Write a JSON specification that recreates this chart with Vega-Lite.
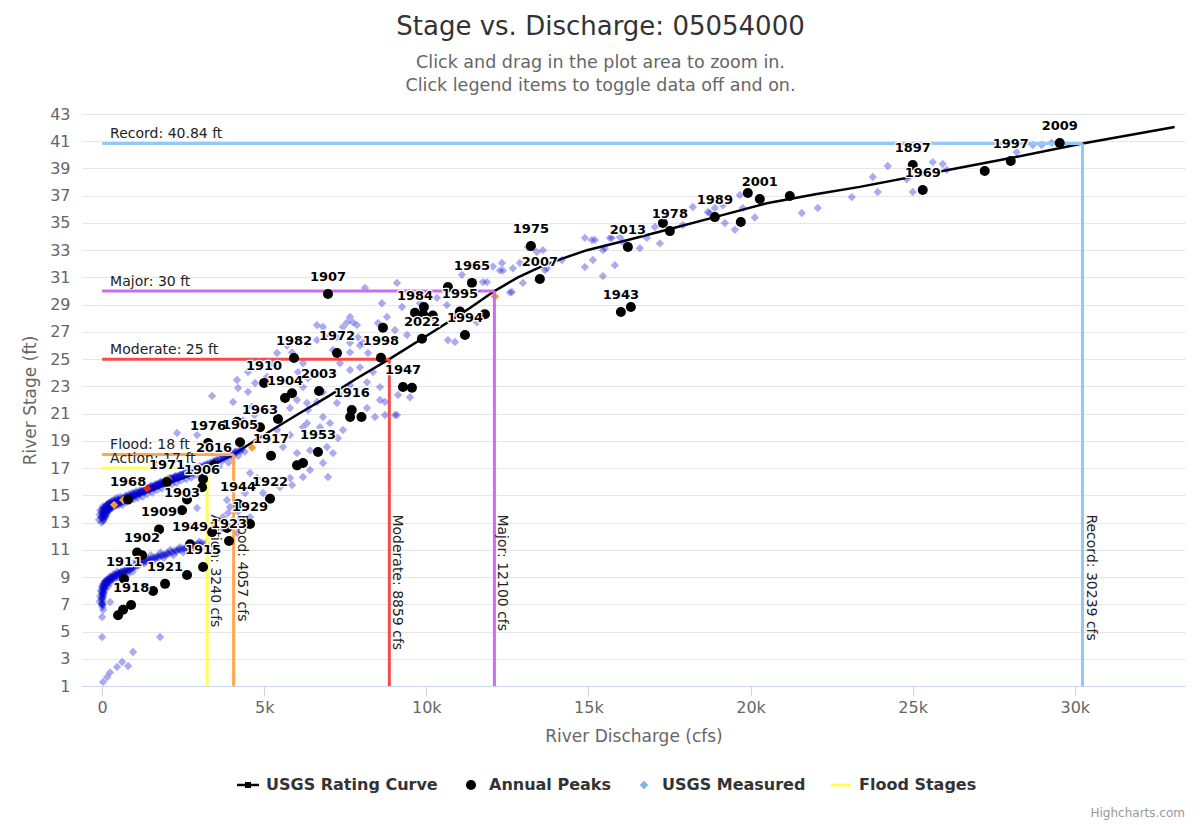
{
  "$schema": "https://vega.github.io/schema/vega-lite/v6.json",
  "width": 1103,
  "height": 572,
  "autosize": {"type": "none"},
  "padding": {"left": 82, "top": 114, "right": 15, "bottom": 139},
  "background": "#ffffff",
  "title": {
    "text": "Stage vs. Discharge: 05054000",
    "subtitle": ["Click and drag in the plot area to zoom in.", "Click legend items to toggle data off and on."],
    "anchor": "middle",
    "frame": "group",
    "dx": -33,
    "offset": 12,
    "font": "DejaVu Sans",
    "fontSize": 26,
    "fontWeight": "normal",
    "color": "#333333",
    "subtitleFont": "DejaVu Sans",
    "subtitleFontSize": 17.5,
    "subtitleColor": "#666666",
    "subtitlePadding": 14,
    "subtitleLineHeight": 23
  },
  "config": {
    "view": {"stroke": null},
    "font": "DejaVu Sans",
    "legend": {
      "orient": "none",
      "legendX": 158,
      "legendY": 663,
      "direction": "horizontal",
      "labelFont": "DejaVu Sans",
      "labelFontSize": 16,
      "labelFontWeight": "bold",
      "labelColor": "#333333",
      "labelLimit": 400,
      "symbolSize": 100,
      "symbolStrokeWidth": 0,
      "labelOffset": 10,
      "columnPadding": 25
    }
  },
  "datasets": {
    "curve": [
      {"q": 0, "h": 13.4}, {"q": 100, "h": 13.7}, {"q": 250, "h": 14.0}, {"q": 400, "h": 14.25}, {"q": 600, "h": 14.5},
      {"q": 800, "h": 14.7}, {"q": 1000, "h": 14.9}, {"q": 1200, "h": 15.1}, {"q": 1500, "h": 15.35}, {"q": 1800, "h": 15.65},
      {"q": 2100, "h": 15.95}, {"q": 2400, "h": 16.2}, {"q": 2700, "h": 16.45}, {"q": 3000, "h": 16.75}, {"q": 3240, "h": 17.0},
      {"q": 3600, "h": 17.45}, {"q": 4057, "h": 18.0}, {"q": 4501, "h": 18.7}, {"q": 5241, "h": 19.8}, {"q": 6000, "h": 20.9},
      {"q": 7000, "h": 22.3}, {"q": 7862, "h": 23.6}, {"q": 8859, "h": 25.0}, {"q": 9866, "h": 26.5}, {"q": 10729, "h": 27.8},
      {"q": 11345, "h": 28.75}, {"q": 12100, "h": 30.0}, {"q": 12825, "h": 31.0}, {"q": 13503, "h": 31.76}, {"q": 14212, "h": 32.4},
      {"q": 14953, "h": 33.0}, {"q": 16217, "h": 33.75}, {"q": 17512, "h": 34.55}, {"q": 18899, "h": 35.43}, {"q": 20500, "h": 36.45},
      {"q": 22000, "h": 37.1}, {"q": 23369, "h": 37.65}, {"q": 26452, "h": 39.06}, {"q": 28025, "h": 39.77}, {"q": 30239, "h": 40.84},
      {"q": 33081, "h": 42.04}
    ],
    "measured": [
      {"q": 0, "h": 4.6}, {"q": 1788, "h": 4.6}, {"q": 31, "h": 1.3}, {"q": 154, "h": 1.66}, {"q": 247, "h": 2.0}, {"q": 462, "h": 2.4},
      {"q": 617, "h": 2.76}, {"q": 802, "h": 2.47}, {"q": 955, "h": 3.5}, {"q": 0, "h": 6.07}, {"q": 31, "h": 6.58}, {"q": 247, "h": 7.17},
      {"q": 2929, "h": 14.07}, {"q": 3946, "h": 14.14}, {"q": 4563, "h": 16.64}, {"q": 4779, "h": 16.27}, {"q": 4039, "h": 13.19},
      {"q": 3730, "h": 13.4}, {"q": 3884, "h": 13.7}, {"q": 4347, "h": 14.3}, {"q": 2312, "h": 19.58}, {"q": 2929, "h": 19.43},
      {"q": 1634, "h": 17.08}, {"q": 4254, "h": 13.2}, {"q": 4470, "h": 12.8}, {"q": 3700, "h": 12.6}, {"q": 4162, "h": 12.23},
      {"q": 3391, "h": 22.3}, {"q": 4162, "h": 23.47}, {"q": 4193, "h": 22.88}, {"q": 4501, "h": 24.05}, {"q": 4717, "h": 23.25},
      {"q": 5087, "h": 23.7}, {"q": 5241, "h": 24.7}, {"q": 5395, "h": 25.45}, {"q": 5703, "h": 26.0}, {"q": 5858, "h": 25.5},
      {"q": 6197, "h": 24.7}, {"q": 6043, "h": 24.05}, {"q": 6351, "h": 23.6}, {"q": 6197, "h": 22.95}, {"q": 6012, "h": 22.0},
      {"q": 5796, "h": 21.41}, {"q": 6351, "h": 21.26}, {"q": 6628, "h": 21.85}, {"q": 6813, "h": 20.75}, {"q": 6721, "h": 20.0},
      {"q": 7029, "h": 20.3}, {"q": 6197, "h": 20.0}, {"q": 5796, "h": 19.43}, {"q": 5395, "h": 19.8}, {"q": 5580, "h": 18.55},
      {"q": 6012, "h": 18.1}, {"q": 6413, "h": 18.3}, {"q": 6937, "h": 18.55}, {"q": 7122, "h": 19.43}, {"q": 7276, "h": 19.2},
      {"q": 6813, "h": 17.37}, {"q": 6413, "h": 16.86}, {"q": 6197, "h": 16.35}, {"q": 5796, "h": 16.27}, {"q": 5488, "h": 15.6},
      {"q": 5858, "h": 15.76}, {"q": 4964, "h": 15.17}, {"q": 4655, "h": 15.76}, {"q": 4409, "h": 15.17}, {"q": 3853, "h": 14.66},
      {"q": 4193, "h": 13.8}, {"q": 4563, "h": 13.4}, {"q": 6813, "h": 27.36}, {"q": 7245, "h": 26.6}, {"q": 7430, "h": 27.36},
      {"q": 7738, "h": 27.7}, {"q": 7954, "h": 26.0}, {"q": 7646, "h": 25.5}, {"q": 7338, "h": 24.7}, {"q": 7091, "h": 23.98},
      {"q": 7646, "h": 24.2}, {"q": 7954, "h": 24.4}, {"q": 8201, "h": 25.45}, {"q": 8355, "h": 24.05}, {"q": 8170, "h": 23.3},
      {"q": 7646, "h": 23.1}, {"q": 7338, "h": 22.37}, {"q": 6813, "h": 22.58}, {"q": 8571, "h": 22.95}, {"q": 8571, "h": 22.0},
      {"q": 8170, "h": 21.41}, {"q": 8417, "h": 20.75}, {"q": 8725, "h": 20.9}, {"q": 9095, "h": 20.9}, {"q": 7430, "h": 19.8},
      {"q": 7122, "h": 18.1}, {"q": 6967, "h": 16.35}, {"q": 8108, "h": 30.22}, {"q": 9095, "h": 30.6}, {"q": 8632, "h": 29.1},
      {"q": 8787, "h": 28.1}, {"q": 8509, "h": 27.65}, {"q": 9033, "h": 27.14}, {"q": 9249, "h": 28.83}, {"q": 9403, "h": 26.77},
      {"q": 8941, "h": 26.26}, {"q": 9804, "h": 29.1}, {"q": 10328, "h": 29.5}, {"q": 10636, "h": 28.97}, {"q": 10205, "h": 28.24},
      {"q": 10883, "h": 28.24}, {"q": 11099, "h": 31.2}, {"q": 11869, "h": 30.66}, {"q": 12054, "h": 31.8}, {"q": 12270, "h": 31.5},
      {"q": 12671, "h": 31.67}, {"q": 12887, "h": 32.06}, {"q": 12579, "h": 29.9}, {"q": 12979, "h": 30.6}, {"q": 13719, "h": 31.67},
      {"q": 10667, "h": 26.4}, {"q": 10883, "h": 26.26}, {"q": 11561, "h": 27.7}, {"q": 11746, "h": 28.4}, {"q": 9126, "h": 22.37},
      {"q": 9496, "h": 22.2}, {"q": 9033, "h": 20.9}, {"q": 8725, "h": 21.85}, {"q": 7646, "h": 28.1}, {"q": 7553, "h": 27.7},
      {"q": 7862, "h": 27.5}, {"q": 7893, "h": 26.6}, {"q": 8047, "h": 26.2}, {"q": 7646, "h": 26.2}, {"q": 7122, "h": 25.67},
      {"q": 6937, "h": 26.6}, {"q": 6628, "h": 26.4}, {"q": 6320, "h": 26.18}, {"q": 6628, "h": 27.5}, {"q": 11746, "h": 30.66},
      {"q": 12332, "h": 32.06}, {"q": 12363, "h": 31.5}, {"q": 12640, "h": 29.93}, {"q": 13133, "h": 33.23}, {"q": 13411, "h": 32.87},
      {"q": 13596, "h": 33.0}, {"q": 13657, "h": 31.54}, {"q": 13442, "h": 30.8}, {"q": 14182, "h": 32.28}, {"q": 14891, "h": 33.9},
      {"q": 15107, "h": 33.75}, {"q": 15199, "h": 33.75}, {"q": 15446, "h": 33.0}, {"q": 15138, "h": 32.28}, {"q": 14891, "h": 31.76},
      {"q": 15816, "h": 31.9}, {"q": 15446, "h": 31.1}, {"q": 15662, "h": 33.9}, {"q": 15970, "h": 33.97}, {"q": 16587, "h": 33.15},
      {"q": 17203, "h": 33.5}, {"q": 17049, "h": 34.7}, {"q": 17912, "h": 34.85}, {"q": 18220, "h": 36.17}, {"q": 18744, "h": 35.73},
      {"q": 19207, "h": 35.0}, {"q": 19516, "h": 34.5}, {"q": 19762, "h": 36.1}, {"q": 20132, "h": 35.4}, {"q": 19145, "h": 36.3},
      {"q": 15508, "h": 33.15}, {"q": 15723, "h": 33.9}, {"q": 16062, "h": 33.6}, {"q": 16802, "h": 33.9}, {"q": 18683, "h": 35.8},
      {"q": 18899, "h": 36.1}, {"q": 19670, "h": 37.05}, {"q": 21581, "h": 35.73}, {"q": 22074, "h": 36.1}, {"q": 23123, "h": 36.9},
      {"q": 23770, "h": 38.37}, {"q": 23924, "h": 37.27}, {"q": 24232, "h": 39.18}, {"q": 24818, "h": 38.2}, {"q": 25003, "h": 37.27},
      {"q": 25619, "h": 39.47}, {"q": 25928, "h": 39.33}, {"q": 26051, "h": 38.9}, {"q": 28209, "h": 40.2}, {"q": 28703, "h": 40.72},
      {"q": 28980, "h": 40.72}, {"q": 29289, "h": 40.87}, {"q": 4039, "h": 21.85}, {"q": 4625, "h": 21.5}, {"q": 4347, "h": 20.5},
      {"q": 5087, "h": 21.26}, {"q": 6320, "h": 21.78}, {"q": 6320, "h": 20.3}, {"q": 7245, "h": 21.78}, {"q": 4500, "h": 22.6},
      {"q": 4700, "h": 20.9},
      {"q": -100, "h": 13.2}, {"q": -80, "h": 13.6}, {"q": -60, "h": 13.9}, {"q": -40, "h": 13.4}, {"q": -20, "h": 13.0},
      {"q": 0, "h": 13.7}, {"q": 0, "h": 13.3}, {"q": 10, "h": 14.0}, {"q": 20, "h": 13.5}, {"q": 30, "h": 13.1},
      {"q": 40, "h": 13.8}, {"q": 50, "h": 13.4}, {"q": 60, "h": 14.1}, {"q": 70, "h": 13.6}, {"q": 80, "h": 13.3},
      {"q": 90, "h": 13.9}, {"q": 100, "h": 14.2}, {"q": 110, "h": 13.7}, {"q": 120, "h": 13.5}, {"q": 140, "h": 14.0},
      {"q": 150, "h": 14.3}, {"q": 160, "h": 13.8}, {"q": 180, "h": 14.1}, {"q": 200, "h": 14.4}, {"q": 210, "h": 13.9},
      {"q": 230, "h": 14.2}, {"q": 250, "h": 14.5}, {"q": 260, "h": 14.0}, {"q": 280, "h": 14.3}, {"q": 300, "h": 14.6},
      {"q": 320, "h": 14.1}, {"q": 350, "h": 14.4}, {"q": 380, "h": 14.7}, {"q": 400, "h": 14.2}, {"q": 420, "h": 14.5},
      {"q": 450, "h": 14.8}, {"q": 480, "h": 14.3}, {"q": 500, "h": 14.6}, {"q": 530, "h": 14.3}, {"q": 560, "h": 14.9},
      {"q": 600, "h": 14.5}, {"q": 630, "h": 14.3}, {"q": 660, "h": 14.8}, {"q": 700, "h": 14.6}, {"q": 730, "h": 15.0},
      {"q": 760, "h": 14.5}, {"q": 800, "h": 14.8}, {"q": 830, "h": 15.1}, {"q": 860, "h": 14.6}, {"q": 900, "h": 14.9},
      {"q": 940, "h": 15.2}, {"q": 980, "h": 14.7}, {"q": 1000, "h": 15.0}, {"q": 1050, "h": 15.3}, {"q": 1100, "h": 14.8},
      {"q": 1150, "h": 15.1}, {"q": 1200, "h": 15.4}, {"q": 1250, "h": 14.9}, {"q": 1300, "h": 15.2}, {"q": 1350, "h": 15.5},
      {"q": 1400, "h": 15.1}, {"q": 1450, "h": 15.4}, {"q": 1500, "h": 15.7}, {"q": 1550, "h": 15.2}, {"q": 1600, "h": 15.5},
      {"q": 1650, "h": 15.8}, {"q": 1700, "h": 15.4}, {"q": 1750, "h": 15.7}, {"q": 1800, "h": 16.0}, {"q": 1850, "h": 15.5},
      {"q": 1900, "h": 15.8}, {"q": 1950, "h": 16.1}, {"q": 2000, "h": 15.7}, {"q": 2050, "h": 16.0}, {"q": 2100, "h": 16.3},
      {"q": 2150, "h": 15.8}, {"q": 2200, "h": 16.1}, {"q": 2250, "h": 16.4}, {"q": 2300, "h": 15.9}, {"q": 2350, "h": 16.2},
      {"q": 2400, "h": 16.5}, {"q": 2450, "h": 16.1}, {"q": 2500, "h": 16.4}, {"q": 2550, "h": 16.7}, {"q": 2600, "h": 16.2},
      {"q": 2650, "h": 16.5}, {"q": 2700, "h": 16.8}, {"q": 2750, "h": 16.3}, {"q": 2800, "h": 16.6}, {"q": 2850, "h": 16.9},
      {"q": 2900, "h": 16.5}, {"q": 2950, "h": 16.8}, {"q": 3000, "h": 17.0}, {"q": 3050, "h": 16.6}, {"q": 3100, "h": 16.9},
      {"q": 3200, "h": 17.2}, {"q": 3300, "h": 16.8}, {"q": 3400, "h": 17.2}, {"q": 3500, "h": 17.5}, {"q": 3600, "h": 17.1},
      {"q": 3700, "h": 17.5}, {"q": 3800, "h": 17.8}, {"q": 3900, "h": 17.4}, {"q": 4000, "h": 17.8}, {"q": 4100, "h": 18.2},
      {"q": 4200, "h": 17.9}, {"q": 4300, "h": 18.4}, {"q": 4400, "h": 18.2},
      {"q": 0, "h": 13.4}, {"q": 0, "h": 13.9}, {"q": 15, "h": 13.6}, {"q": 25, "h": 14.2}, {"q": 35, "h": 13.2}, {"q": 45, "h": 13.7},
      {"q": 55, "h": 13.95}, {"q": 65, "h": 13.5}, {"q": 75, "h": 14.05}, {"q": 85, "h": 13.75}, {"q": 95, "h": 13.45}, {"q": 105, "h": 14.0},
      {"q": 115, "h": 13.8}, {"q": 125, "h": 14.25}, {"q": 135, "h": 13.9}, {"q": 145, "h": 13.65}, {"q": 155, "h": 14.1}, {"q": 165, "h": 14.35},
      {"q": 175, "h": 13.85}, {"q": 185, "h": 14.15}, {"q": 195, "h": 13.95}, {"q": 205, "h": 14.3}, {"q": 215, "h": 14.1}, {"q": 225, "h": 14.45},
      {"q": 235, "h": 14.0}, {"q": 245, "h": 14.25}, {"q": 255, "h": 14.35}, {"q": 270, "h": 14.15}, {"q": 285, "h": 14.45}, {"q": 295, "h": 14.2},
      {"q": 310, "h": 14.4}, {"q": 325, "h": 14.3}, {"q": 340, "h": 14.55}, {"q": 355, "h": 14.25}, {"q": 370, "h": 14.45}, {"q": 385, "h": 14.35},
      {"q": 400, "h": 14.6}, {"q": 415, "h": 14.4}, {"q": 430, "h": 14.3}, {"q": 445, "h": 14.55}, {"q": 460, "h": 14.45}, {"q": 475, "h": 14.65},
      {"q": 490, "h": 14.4}, {"q": 505, "h": 14.55}, {"q": 520, "h": 14.7}, {"q": 540, "h": 14.5}, {"q": 555, "h": 14.6}, {"q": 570, "h": 14.45},
      {"q": 585, "h": 14.75}, {"q": 610, "h": 14.6}, {"q": 625, "h": 14.7}, {"q": 645, "h": 14.55}, {"q": 670, "h": 14.7}, {"q": 685, "h": 14.85},
      {"q": 710, "h": 14.65}, {"q": 725, "h": 14.8}, {"q": 745, "h": 14.7}, {"q": 770, "h": 14.9}, {"q": 790, "h": 14.75}, {"q": 815, "h": 14.85},
      {"q": 840, "h": 14.95}, {"q": 870, "h": 14.8}, {"q": 885, "h": 15.0}, {"q": 910, "h": 14.85}, {"q": 925, "h": 15.05}, {"q": 955, "h": 14.95},
      {"q": 970, "h": 15.1}, {"q": 995, "h": 14.9}, {"q": 1020, "h": 15.1}, {"q": 1040, "h": 15.0}, {"q": 1065, "h": 15.2}, {"q": 1085, "h": 15.05},
      {"q": 1110, "h": 15.2}, {"q": 1130, "h": 15.1}, {"q": 1160, "h": 15.3}, {"q": 1180, "h": 15.15}, {"q": 1210, "h": 15.25}, {"q": 1230, "h": 15.35},
      {"q": 1260, "h": 15.2}, {"q": 1280, "h": 15.4}, {"q": 1310, "h": 15.3}, {"q": 1330, "h": 15.45}, {"q": 1360, "h": 15.35}, {"q": 1380, "h": 15.5},
      {"q": 1410, "h": 15.4}, {"q": 1430, "h": 15.55}, {"q": 1460, "h": 15.45}, {"q": 1480, "h": 15.6}, {"q": 1510, "h": 15.5}, {"q": 1530, "h": 15.65},
      {"q": 1560, "h": 15.55}, {"q": 1580, "h": 15.7}, {"q": 1610, "h": 15.6}, {"q": 1630, "h": 15.75}, {"q": 1660, "h": 15.65}, {"q": 1680, "h": 15.8},
      {"q": 1710, "h": 15.7}, {"q": 1730, "h": 15.85}, {"q": 1760, "h": 15.75}, {"q": 1780, "h": 15.9}, {"q": 1810, "h": 15.8}, {"q": 1830, "h": 15.95},
      {"q": 1860, "h": 15.85}, {"q": 1880, "h": 16.0}, {"q": 1910, "h": 15.9}, {"q": 1930, "h": 16.05}, {"q": 1960, "h": 15.95}, {"q": 1980, "h": 16.1},
      {"q": 2010, "h": 16.0}, {"q": 2030, "h": 16.15}, {"q": 2060, "h": 16.05}, {"q": 2080, "h": 16.2}, {"q": 2110, "h": 16.1}, {"q": 2130, "h": 16.25},
      {"q": 2160, "h": 16.15}, {"q": 2180, "h": 16.3}, {"q": 2210, "h": 16.2}, {"q": 2230, "h": 16.35}, {"q": 2260, "h": 16.25}, {"q": 2280, "h": 16.4},
      {"q": 2320, "h": 16.3}, {"q": 2340, "h": 16.45}, {"q": 2380, "h": 16.4}, {"q": 2420, "h": 16.5}, {"q": 2460, "h": 16.45}, {"q": 2490, "h": 16.6},
      {"q": 2530, "h": 16.55}, {"q": 2570, "h": 16.65}, {"q": 2610, "h": 16.6}, {"q": 2640, "h": 16.75}, {"q": 2680, "h": 16.7}, {"q": 2720, "h": 16.85},
      {"q": 2760, "h": 16.75}, {"q": 2790, "h": 16.9}, {"q": 2830, "h": 16.85}, {"q": 2870, "h": 17.0}, {"q": 2910, "h": 16.9}, {"q": 2940, "h": 17.05},
      {"q": 2980, "h": 17.0}, {"q": 3020, "h": 17.15}, {"q": 3070, "h": 17.05}, {"q": 3120, "h": 17.2}, {"q": 3160, "h": 17.15}, {"q": 3220, "h": 17.3},
      {"q": 3260, "h": 17.25}, {"q": 3320, "h": 17.4}, {"q": 3360, "h": 17.35}, {"q": 3420, "h": 17.5}, {"q": 3460, "h": 17.45}, {"q": 3520, "h": 17.6},
      {"q": 3560, "h": 17.55}, {"q": 3620, "h": 17.7}, {"q": 3660, "h": 17.65}, {"q": 3720, "h": 17.8}, {"q": 3760, "h": 17.75}, {"q": 3820, "h": 17.9},
      {"q": 3860, "h": 17.85}, {"q": 3920, "h": 18.0}, {"q": 3960, "h": 17.95}, {"q": 4020, "h": 18.1}, {"q": 4060, "h": 18.05}, {"q": 4120, "h": 18.2},
      {"q": 4160, "h": 18.15}, {"q": 4230, "h": 18.3}, {"q": 4280, "h": 18.25},
      {"q": -80, "h": 7.2}, {"q": -60, "h": 7.6}, {"q": -40, "h": 8.0}, {"q": -20, "h": 7.4}, {"q": 0, "h": 7.8},
      {"q": 0, "h": 8.3}, {"q": 0, "h": 7.0}, {"q": 10, "h": 6.8}, {"q": 10, "h": 7.1}, {"q": 20, "h": 7.6},
      {"q": 30, "h": 8.1}, {"q": 40, "h": 8.5}, {"q": 50, "h": 7.9}, {"q": 60, "h": 8.3}, {"q": 80, "h": 8.7},
      {"q": 100, "h": 8.1}, {"q": 120, "h": 8.5}, {"q": 150, "h": 8.8}, {"q": 180, "h": 8.3}, {"q": 200, "h": 8.7},
      {"q": 230, "h": 9.0}, {"q": 260, "h": 8.6}, {"q": 300, "h": 8.9}, {"q": 340, "h": 9.2}, {"q": 380, "h": 8.8},
      {"q": 420, "h": 9.1}, {"q": 460, "h": 9.4}, {"q": 500, "h": 9.0}, {"q": 550, "h": 9.3}, {"q": 600, "h": 9.4},
      {"q": 650, "h": 9.0}, {"q": 700, "h": 9.3}, {"q": 750, "h": 9.6}, {"q": 800, "h": 9.2}, {"q": 850, "h": 9.5},
      {"q": 900, "h": 9.8}, {"q": 950, "h": 9.4}, {"q": 1000, "h": 9.9}, {"q": 1050, "h": 10.2}, {"q": 1100, "h": 9.8},
      {"q": 1150, "h": 10.1}, {"q": 1200, "h": 10.4}, {"q": 1300, "h": 10.0}, {"q": 1400, "h": 10.3}, {"q": 1500, "h": 10.6},
      {"q": 1600, "h": 10.2}, {"q": 1700, "h": 10.5}, {"q": 1800, "h": 10.8}, {"q": 1900, "h": 10.4}, {"q": 2000, "h": 10.7},
      {"q": 2100, "h": 11.0}, {"q": 2200, "h": 10.6}, {"q": 2300, "h": 10.9}, {"q": 2400, "h": 11.2}, {"q": 2500, "h": 10.8},
      {"q": 2600, "h": 11.1}, {"q": 2700, "h": 11.4}, {"q": 2800, "h": 11.0}, {"q": 2900, "h": 11.3}, {"q": 3000, "h": 11.6},
      {"q": 3100, "h": 11.2}, {"q": 3200, "h": 11.5},
      {"q": 0, "h": 7.0}, {"q": 0, "h": 7.5}, {"q": 0, "h": 8.0}, {"q": 5, "h": 7.25}, {"q": 5, "h": 7.75}, {"q": 10, "h": 8.25},
      {"q": 15, "h": 6.95}, {"q": 20, "h": 7.4}, {"q": 25, "h": 7.9}, {"q": 30, "h": 8.4}, {"q": 35, "h": 7.6}, {"q": 45, "h": 8.15},
      {"q": 55, "h": 7.8}, {"q": 65, "h": 8.5}, {"q": 75, "h": 8.2}, {"q": 85, "h": 8.6}, {"q": 95, "h": 8.35}, {"q": 110, "h": 8.7},
      {"q": 125, "h": 8.4}, {"q": 140, "h": 8.65}, {"q": 160, "h": 8.55}, {"q": 175, "h": 8.8}, {"q": 190, "h": 8.6}, {"q": 210, "h": 8.85},
      {"q": 225, "h": 8.7}, {"q": 245, "h": 8.95}, {"q": 265, "h": 8.8}, {"q": 285, "h": 9.0}, {"q": 305, "h": 8.85}, {"q": 325, "h": 9.05},
      {"q": 350, "h": 8.95}, {"q": 370, "h": 9.1}, {"q": 395, "h": 9.0}, {"q": 420, "h": 9.2}, {"q": 445, "h": 9.05}, {"q": 470, "h": 9.25},
      {"q": 495, "h": 9.15}, {"q": 520, "h": 9.3}, {"q": 545, "h": 9.2}, {"q": 575, "h": 9.35}, {"q": 600, "h": 9.25}, {"q": 630, "h": 9.4},
      {"q": 660, "h": 9.3}, {"q": 690, "h": 9.45}, {"q": 720, "h": 9.4}, {"q": 750, "h": 9.55}, {"q": 780, "h": 9.45}, {"q": 810, "h": 9.6},
      {"q": 840, "h": 9.5}, {"q": 875, "h": 9.7}, {"q": 905, "h": 9.6}, {"q": 940, "h": 9.75}, {"q": 970, "h": 9.7}, {"q": 1010, "h": 9.85},
      {"q": 1040, "h": 9.8}, {"q": 1080, "h": 9.95}, {"q": 1120, "h": 9.9}, {"q": 1160, "h": 10.05}, {"q": 1200, "h": 10.0}, {"q": 1240, "h": 10.15},
      {"q": 1280, "h": 10.1}, {"q": 1330, "h": 10.2}, {"q": 1370, "h": 10.15}, {"q": 1420, "h": 10.3}, {"q": 1460, "h": 10.25}, {"q": 1510, "h": 10.35},
      {"q": 1550, "h": 10.3}, {"q": 1600, "h": 10.45}, {"q": 1650, "h": 10.4}, {"q": 1700, "h": 10.5}, {"q": 1750, "h": 10.45}, {"q": 1800, "h": 10.6},
      {"q": 1850, "h": 10.55}, {"q": 1900, "h": 10.65}, {"q": 1950, "h": 10.6}, {"q": 2000, "h": 10.75}, {"q": 2060, "h": 10.7}, {"q": 2120, "h": 10.85},
      {"q": 2180, "h": 10.8}, {"q": 2240, "h": 10.95}, {"q": 2300, "h": 10.9}, {"q": 2360, "h": 11.05}, {"q": 2420, "h": 11.0}, {"q": 2480, "h": 11.1},
      {"q": 2540, "h": 11.05}, {"q": 2600, "h": 11.2}, {"q": 2660, "h": 11.15}, {"q": 2720, "h": 11.3}, {"q": 2780, "h": 11.25}, {"q": 2840, "h": 11.35},
      {"q": 2900, "h": 11.3}, {"q": 2960, "h": 11.45}, {"q": 3020, "h": 11.4}, {"q": 3080, "h": 11.5}
    ],
    "recent": [
      {"q": 370, "h": 14.3, "kind": "orange"}, {"q": 647, "h": 14.66, "kind": "orange"}, {"q": 2035, "h": 16.2, "kind": "orange"},
      {"q": 4625, "h": 18.5, "kind": "orange"}, {"q": 12116, "h": 29.6, "kind": "orange"}, {"q": 1387, "h": 15.5, "kind": "red"}
    ],
    "stages": [
      {"name": "Action", "h": 17, "q": 3240, "hlabel": "Action: 17 ft", "vlabel": "Action: 3240 cfs"},
      {"name": "Flood", "h": 18, "q": 4057, "hlabel": "Flood: 18 ft", "vlabel": "Flood: 4057 cfs"},
      {"name": "Moderate", "h": 25, "q": 8859, "hlabel": "Moderate: 25 ft", "vlabel": "Moderate: 8859 cfs"},
      {"name": "Major", "h": 30, "q": 12100, "hlabel": "Major: 30 ft", "vlabel": "Major: 12100 cfs"},
      {"name": "Record", "h": 40.84, "q": 30239, "hlabel": "Record: 40.84 ft", "vlabel": "Record: 30239 cfs"}
    ],
    "credits": [
      {"text": "Highcharts.com"}
    ],
    "peaks": [
      {"series": "Annual Peaks", "label": "1897", "q": 25003, "h": 39.25}, {"series": "Annual Peaks", "label": "1969", "q": 25311, "h": 37.42},
      {"series": "Annual Peaks", "label": "1997", "q": 28025, "h": 39.55}, {"series": "Annual Peaks", "label": "2009", "q": 29536, "h": 40.87},
      {"series": "Annual Peaks", "label": "1943", "q": 16001, "h": 28.46}, {"series": "Annual Peaks", "label": "2013", "q": 16217, "h": 33.23},
      {"series": "Annual Peaks", "label": "1978", "q": 17512, "h": 34.4}, {"series": "Annual Peaks", "label": "1989", "q": 18899, "h": 35.43},
      {"series": "Annual Peaks", "label": "2001", "q": 20286, "h": 36.76}, {"series": "Annual Peaks", "label": "1975", "q": 13226, "h": 33.3},
      {"series": "Annual Peaks", "label": "2007", "q": 13503, "h": 30.88}, {"series": "Annual Peaks", "label": "1965", "q": 11407, "h": 30.6},
      {"series": "Annual Peaks", "label": "1995", "q": 11037, "h": 28.5}, {"series": "Annual Peaks", "label": "1994", "q": 11192, "h": 26.77},
      {"series": "Annual Peaks", "label": "1984", "q": 9650, "h": 28.4}, {"series": "Annual Peaks", "label": "2022", "q": 9866, "h": 26.5},
      {"series": "Annual Peaks", "label": "1998", "q": 8600, "h": 25.1}, {"series": "Annual Peaks", "label": "1907", "q": 6967, "h": 29.78},
      {"series": "Annual Peaks", "label": "1947", "q": 9280, "h": 22.95}, {"series": "Annual Peaks", "label": "1916", "q": 7700, "h": 21.26},
      {"series": "Annual Peaks", "label": "1982", "q": 5919, "h": 25.08}, {"series": "Annual Peaks", "label": "1972", "q": 7245, "h": 25.45},
      {"series": "Annual Peaks", "label": "1910", "q": 4995, "h": 23.25}, {"series": "Annual Peaks", "label": "2003", "q": 6690, "h": 22.66},
      {"series": "Annual Peaks", "label": "1904", "q": 5642, "h": 22.15}, {"series": "Annual Peaks", "label": "1963", "q": 4871, "h": 20.0},
      {"series": "Annual Peaks", "label": "1976", "q": 3268, "h": 18.84}, {"series": "Annual Peaks", "label": "1905", "q": 4254, "h": 18.9},
      {"series": "Annual Peaks", "label": "2016", "q": 3453, "h": 17.2}, {"series": "Annual Peaks", "label": "1917", "q": 5210, "h": 17.9},
      {"series": "Annual Peaks", "label": "1953", "q": 6659, "h": 18.18}, {"series": "Annual Peaks", "label": "1922", "q": 5179, "h": 14.75},
      {"series": "Annual Peaks", "label": "1944", "q": 4193, "h": 14.36}, {"series": "Annual Peaks", "label": "1929", "q": 4563, "h": 12.9},
      {"series": "Annual Peaks", "label": "1923", "q": 3915, "h": 11.65}, {"series": "Annual Peaks", "label": "1949", "q": 2713, "h": 11.4},
      {"series": "Annual Peaks", "label": "1915", "q": 3114, "h": 9.74}, {"series": "Annual Peaks", "label": "1921", "q": 1942, "h": 8.5},
      {"series": "Annual Peaks", "label": "1971", "q": 2004, "h": 15.98}, {"series": "Annual Peaks", "label": "1968", "q": 802, "h": 14.7},
      {"series": "Annual Peaks", "label": "1906", "q": 3083, "h": 15.6}, {"series": "Annual Peaks", "label": "1903", "q": 2466, "h": 13.9},
      {"series": "Annual Peaks", "label": "1909", "q": 1757, "h": 12.5}, {"series": "Annual Peaks", "label": "1902", "q": 1233, "h": 10.6},
      {"series": "Annual Peaks", "label": "1911", "q": 678, "h": 8.86}, {"series": "Annual Peaks", "label": "1918", "q": 894, "h": 6.95},
      {"series": "Annual Peaks", "q": 27223, "h": 38.81}, {"series": "Annual Peaks", "q": 16309, "h": 28.83},
      {"series": "Annual Peaks", "q": 17296, "h": 35.0}, {"series": "Annual Peaks", "q": 19700, "h": 35.07},
      {"series": "Annual Peaks", "q": 19916, "h": 37.2}, {"series": "Annual Peaks", "q": 21211, "h": 36.98},
      {"series": "Annual Peaks", "q": 10667, "h": 30.3}, {"series": "Annual Peaks", "q": 11808, "h": 28.3},
      {"series": "Annual Peaks", "q": 9927, "h": 28.83}, {"series": "Annual Peaks", "q": 9900, "h": 28.3},
      {"series": "Annual Peaks", "q": 10200, "h": 28.2}, {"series": "Annual Peaks", "q": 8663, "h": 27.3},
      {"series": "Annual Peaks", "q": 9557, "h": 22.9}, {"series": "Annual Peaks", "q": 7650, "h": 20.75},
      {"series": "Annual Peaks", "q": 8000, "h": 20.75}, {"series": "Annual Peaks", "q": 6012, "h": 17.2},
      {"series": "Annual Peaks", "q": 6197, "h": 17.37}, {"series": "Annual Peaks", "q": 5858, "h": 22.5},
      {"series": "Annual Peaks", "q": 5426, "h": 20.6}, {"series": "Annual Peaks", "q": 2620, "h": 14.7},
      {"series": "Annual Peaks", "q": 3114, "h": 16.2}, {"series": "Annual Peaks", "q": 3391, "h": 12.3},
      {"series": "Annual Peaks", "q": 2620, "h": 9.15}, {"series": "Annual Peaks", "q": 1572, "h": 7.97},
      {"series": "Annual Peaks", "q": 493, "h": 6.2}, {"series": "Annual Peaks", "q": 647, "h": 6.6},
      {"series": "Annual Peaks", "q": 4162, "h": 20.4}, {"series": "Annual Peaks", "q": 1079, "h": 10.8},
      {"series": "Annual Peaks", "q": 3853, "h": 12.6}
    ]
  },
  "layer": [
    {
      "data": {"name": "curve"},
      "mark": {"type": "line", "color": "#000000", "strokeWidth": 2.5},
      "encoding": {
        "x": {
          "field": "q", "type": "quantitative",
          "scale": {"domain": [-620, 33400], "nice": false, "zero": false},
          "axis": {
            "title": "River Discharge (cfs)",
            "values": [0, 5000, 10000, 15000, 20000, 25000, 30000],
            "tickCount": 50,
            "labelExpr": "datum.value == 0 ? '0' : format(datum.value / 1000, 'd') + 'k'",
            "grid": false,
            "domainColor": "#ccd6eb",
            "tickColor": "#ccd6eb",
            "tickSize": 10,
            "labelPadding": 3,
            "labelFont": "DejaVu Sans",
            "labelFontSize": 16,
            "labelColor": "#666666",
            "titleFont": "DejaVu Sans",
            "titleFontSize": 17,
            "titleFontWeight": "normal",
            "titleColor": "#666666",
            "titlePadding": 13
          }
        },
        "y": {
          "field": "h", "type": "quantitative",
          "scale": {"domain": [1, 43], "nice": false, "zero": false},
          "axis": {
            "title": "River Stage (ft)",
            "values": [1, 3, 5, 7, 9, 11, 13, 15, 17, 19, 21, 23, 25, 27, 29, 31, 33, 35, 37, 39, 41, 43],
            "tickCount": 50,
            "labelOverlap": false,
            "grid": true,
            "gridColor": "#e6e6e6",
            "domain": false,
            "ticks": false,
            "labelPadding": 12,
            "labelFont": "DejaVu Sans",
            "labelFontSize": 16,
            "labelColor": "#666666",
            "titleFont": "DejaVu Sans",
            "titleFontSize": 17,
            "titleFontWeight": "normal",
            "titleColor": "#666666",
            "titlePadding": 10
          }
        }
      }
    },
    {
      "data": {"name": "measured"},
      "mark": {"type": "point", "shape": "diamond", "filled": true, "color": "#0000d2", "opacity": 0.33, "size": 70, "strokeWidth": 0},
      "encoding": {
        "x": {"field": "q", "type": "quantitative"},
        "y": {"field": "h", "type": "quantitative"}
      }
    },
    {
      "data": {"name": "recent"},
      "transform": [{"filter": "datum.kind == 'orange'"}],
      "mark": {"type": "point", "shape": "diamond", "filled": true, "color": "#f39c2c", "opacity": 1, "size": 70, "strokeWidth": 0},
      "encoding": {
        "x": {"field": "q", "type": "quantitative"},
        "y": {"field": "h", "type": "quantitative"}
      }
    },
    {
      "data": {"name": "recent"},
      "transform": [{"filter": "datum.kind == 'red'"}],
      "mark": {"type": "point", "shape": "diamond", "filled": true, "color": "#ee1c1c", "opacity": 1, "size": 70, "strokeWidth": 0},
      "encoding": {
        "x": {"field": "q", "type": "quantitative"},
        "y": {"field": "h", "type": "quantitative"}
      }
    },
    {
      "data": {"name": "stages"},
      "mark": {"type": "rule", "strokeWidth": 3},
      "encoding": {
        "x": {"field": "q", "type": "quantitative"},
        "x2": {"datum": 0},
        "y": {"field": "h", "type": "quantitative"},
        "stroke": {
          "field": "name", "type": "nominal",
          "scale": {"domain": ["Action", "Flood", "Moderate", "Major", "Record"], "range": ["#ffff55", "#ffa64d", "#f44b4b", "#cc6cf4", "#94c8f8"]},
          "legend": null
        }
      }
    },
    {
      "data": {"name": "stages"},
      "mark": {"type": "rule", "strokeWidth": 3},
      "encoding": {
        "x": {"field": "q", "type": "quantitative"},
        "y": {"field": "h", "type": "quantitative"},
        "y2": {"datum": 1},
        "stroke": {
          "field": "name", "type": "nominal",
          "scale": {"domain": ["Action", "Flood", "Moderate", "Major", "Record"], "range": ["#ffff55", "#ffa64d", "#f44b4b", "#cc6cf4", "#94c8f8"]},
          "legend": null
        }
      }
    },
    {
      "data": {"name": "stages"},
      "mark": {"type": "text", "align": "left", "baseline": "alphabetic", "dx": 8, "dy": -5, "fontSize": 14, "font": "DejaVu Sans", "color": "#222222"},
      "encoding": {
        "x": {"datum": 0, "type": "quantitative"},
        "y": {"field": "h", "type": "quantitative"},
        "text": {"field": "hlabel", "type": "nominal"}
      }
    },
    {
      "data": {"name": "stages"},
      "mark": {"type": "text", "align": "left", "baseline": "alphabetic", "angle": 90, "dx": 0, "dy": -4, "fontSize": 14, "font": "DejaVu Sans", "color": "#222222"},
      "encoding": {
        "x": {"field": "q", "type": "quantitative"},
        "y": {"datum": 13.6, "type": "quantitative"},
        "text": {"field": "vlabel", "type": "nominal"}
      }
    },
    {
      "data": {"name": "peaks"},
      "mark": {"type": "point", "filled": true, "opacity": 1, "size": 100, "strokeWidth": 0},
      "encoding": {
        "x": {"field": "q", "type": "quantitative"},
        "y": {"field": "h", "type": "quantitative"},
        "color": {
          "field": "series", "type": "nominal",
          "scale": {"domain": ["USGS Rating Curve", "Annual Peaks", "USGS Measured", "Flood Stages"], "range": ["#000000", "#000000", "#7cb5ec", "#ffff55"]},
          "legend": {"title": null}
        },
        "shape": {
          "field": "series", "type": "nominal",
          "scale": {
            "domain": ["USGS Rating Curve", "Annual Peaks", "USGS Measured", "Flood Stages"],
            "range": [
              "M-2.2,-0.25H2.2V0.25H-2.2Z M-0.6,-0.6H0.6V0.6H-0.6Z",
              "circle",
              "M0,-0.85L0.85,0L0,0.85L-0.85,0Z",
              "M-2,-0.3H2V0.3H-2Z"
            ]
          },
          "legend": {"title": null}
        }
      }
    },
    {
      "data": {"name": "peaks"},
      "transform": [{"filter": "isValid(datum.label)"}],
      "mark": {"type": "text", "align": "center", "baseline": "middle", "dy": -17, "fontSize": 13, "fontWeight": "bold", "font": "DejaVu Sans", "color": "#ffffff", "stroke": "#ffffff", "strokeWidth": 2.5, "strokeJoin": "round"},
      "encoding": {
        "x": {"field": "q", "type": "quantitative"},
        "y": {"field": "h", "type": "quantitative"},
        "text": {"field": "label", "type": "nominal"}
      }
    },
    {
      "data": {"name": "peaks"},
      "transform": [{"filter": "isValid(datum.label)"}],
      "mark": {"type": "text", "align": "center", "baseline": "middle", "dy": -17, "fontSize": 13, "fontWeight": "bold", "font": "DejaVu Sans", "color": "#000000"},
      "encoding": {
        "x": {"field": "q", "type": "quantitative"},
        "y": {"field": "h", "type": "quantitative"},
        "text": {"field": "label", "type": "nominal"}
      }
    },
    {
      "data": {"name": "credits"},
      "mark": {"type": "text", "align": "right", "baseline": "middle", "fontSize": 12, "font": "DejaVu Sans", "color": "#999999", "clip": false},
      "encoding": {
        "x": {"datum": 33400, "type": "quantitative"},
        "y": {"datum": -8.3, "type": "quantitative"},
        "text": {"field": "text", "type": "nominal"}
      }
    }
  ]
}
